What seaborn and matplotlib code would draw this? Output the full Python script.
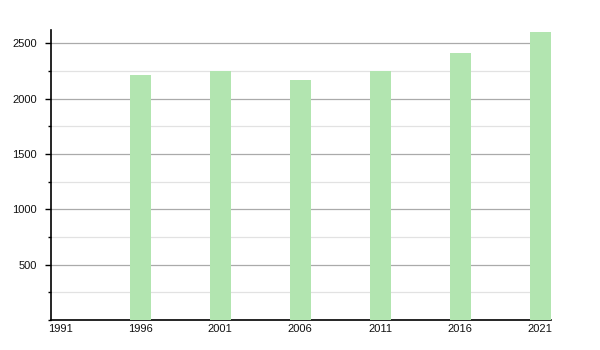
import matplotlib
matplotlib.use("Agg")
import matplotlib.pyplot as plt
import seaborn as sns
import pandas as pd
from matplotlib.ticker import MultipleLocator

years = [1996, 2001, 2006, 2011, 2016, 2021]
population = [2212, 2248, 2168, 2254, 2408, 2603]
xtick_years = [1991, 1996, 2001, 2006, 2011, 2016, 2021]
ytick_values = [500, 1000, 1500, 2000, 2500]

sns.set_theme(style="white")
plt.rcParams['font.family'] = ['Liberation Sans', 'DejaVu Sans']

df = pd.DataFrame({"year": years, "population": population})

fig = plt.figure(figsize=(6, 3.5), dpi=100)
ax = fig.add_axes([0.0845, 0.0857, 0.8333, 0.8286])

sns.barplot(data=df, x="year", y="population", native_scale=True, width=0.26,
            color="#b2e5b0", saturation=1, linewidth=0, ax=ax, zorder=3)

ax.set_xlim(1991 - 0.6, 2021 + 0.65)
ax.set_ylim(0, 2620)
ax.set_xticks(xtick_years)
ax.set_xticklabels([str(y) for y in xtick_years])
ax.set_yticks(ytick_values)
ax.set_yticklabels([str(v) for v in ytick_values])
ax.yaxis.set_minor_locator(MultipleLocator(250))

ax.grid(False)
ax.grid(axis="y", which="major", color="#aaaaaa", linewidth=0.9, zorder=1)
ax.grid(axis="y", which="minor", color="#e2e2e2", linewidth=0.9, zorder=1)
ax.set_axisbelow(True)

for s in ["top", "right"]:
    ax.spines[s].set_visible(False)
for s in ["left", "bottom"]:
    ax.spines[s].set_color("black")
    ax.spines[s].set_linewidth(1.2)

ax.tick_params(axis="y", which="major", left=True, length=4, width=1, color="black",
               pad=6, labelsize=8, labelcolor="#111111")
ax.tick_params(axis="y", which="minor", left=True, length=2, width=1, color="black")
ax.tick_params(axis="x", which="both", bottom=False, length=0, pad=3,
               labelsize=8, labelcolor="#111111")
ax.set_xlabel("")
ax.set_ylabel("")

fig.savefig("out.png", dpi=100)
